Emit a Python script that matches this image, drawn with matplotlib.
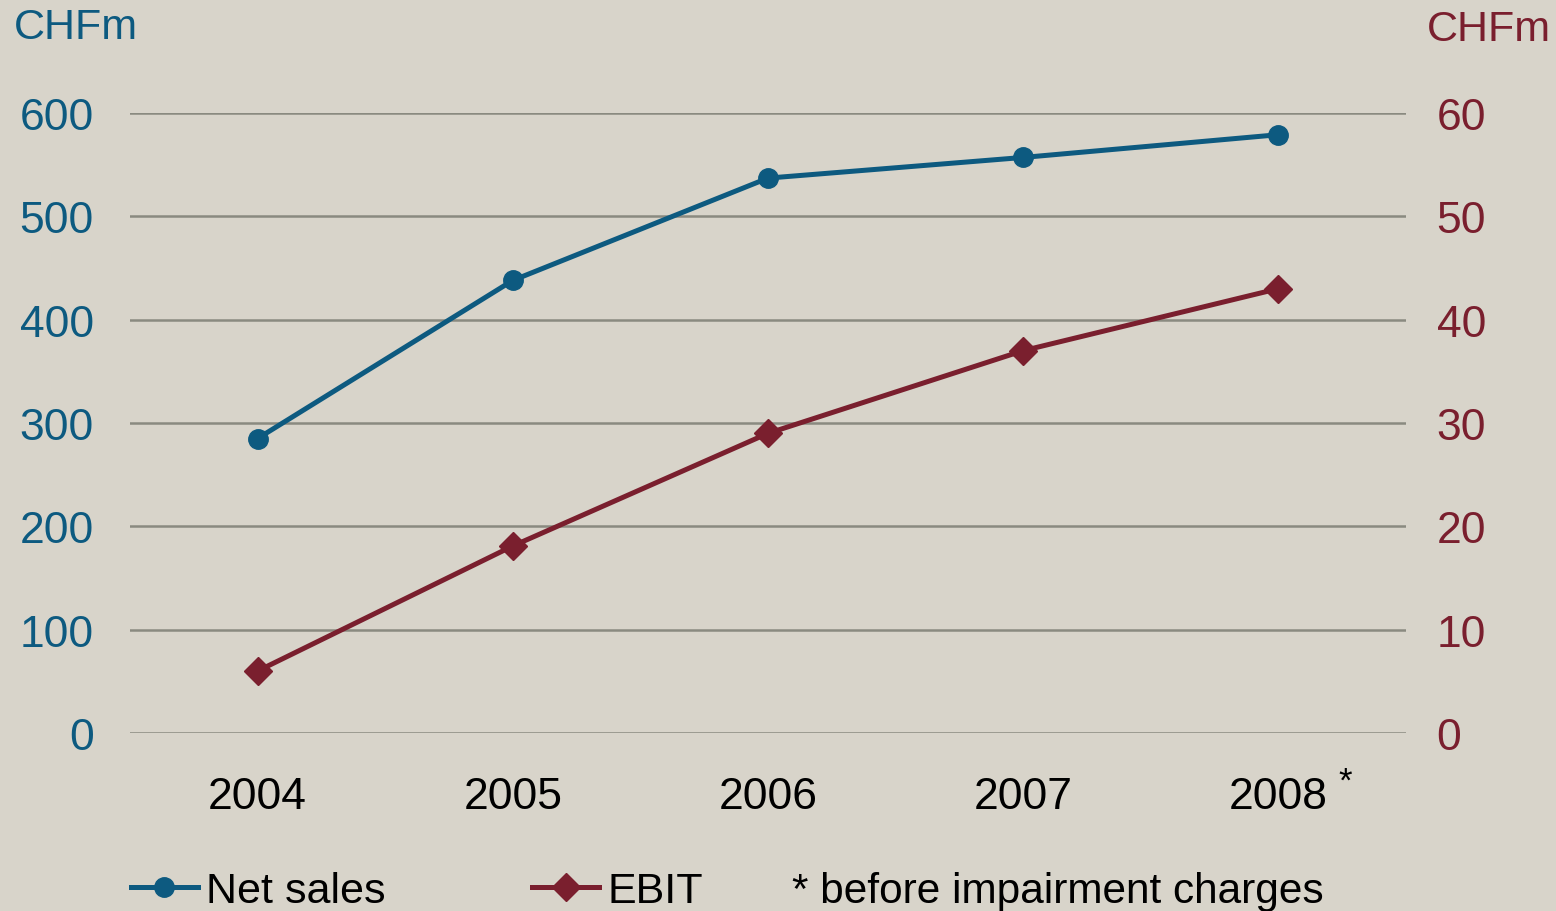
import numpy as np
import matplotlib.pyplot as plt
from matplotlib.lines import Line2D

plt.rcParams['font.family'] = ['Liberation Sans', 'DejaVu Sans']

years = ['2004', '2005', '2006', '2007', '2008']
net_sales = [285, 438, 537, 557, 579]   # CHFm, left axis
ebit = [6.0, 18.1, 29.0, 37.0, 43.0]    # CHFm, right axis

BG = '#d8d4ca'
BLUE = '#0d5a80'
RED = '#7a1f2e'
GRID = '#8a8a80'

fig = plt.figure(figsize=(15.56, 9.12), dpi=100, facecolor=BG)
ax = fig.add_axes([130 / 1556, 1 - 734 / 912, 1276 / 1556, 620 / 912])
ax.set_facecolor(BG)
ax2 = ax.twinx()

x = np.arange(len(years))
ax.plot(x, net_sales, color=BLUE, lw=3.6, marker='o', ms=14, zorder=3)
ax2.plot(x, ebit, color=RED, lw=3.6, marker='D', ms=14, zorder=3)

ax.set_xlim(-0.5, 4.5)
ax.set_ylim(0, 600)
ax2.set_ylim(0, 60)
ax.set_yticks(range(0, 601, 100))
ax2.set_yticks(range(0, 61, 10))
ax.set_xticks(x)
ax.set_xticklabels(years)

for t in range(0, 601, 100):
    ax.axhline(t, color=GRID, lw=1.8, zorder=1)

for a in (ax, ax2):
    for s in a.spines.values():
        s.set_visible(False)
# pads are in points
ax.tick_params(axis='y', length=0, pad=26, labelsize=32, labelcolor=BLUE)
ax2.tick_params(axis='y', length=0, pad=22, labelsize=32, labelcolor=RED)
ax.tick_params(axis='x', length=0, pad=31, labelsize=32, labelcolor='black')

fig.text(14 / 1556, 1 - 28 / 912, 'CHFm', color=BLUE, fontsize=31, va='center', ha='left')
fig.text(1551 / 1556, 1 - 30 / 912, 'CHFm', color=RED, fontsize=31, va='center', ha='right')
fig.text(1338 / 1556, 1 - 782 / 912, '*', color='black', fontsize=25, va='center', ha='left')

handles = [
    Line2D([], [], color=BLUE, lw=3.6, marker='o', ms=14),
    Line2D([], [], color=RED, lw=3.6, marker='D', ms=14),
]
fig.legend(handles, ['Net sales', 'EBIT'], loc='center left',
           bbox_to_anchor=(131 / 1556, 1 - 892 / 912), ncol=2, frameon=False,
           fontsize=31, handlelength=1.55, handletextpad=0.2, columnspacing=3.4,
           borderaxespad=0, borderpad=0)
fig.text(792 / 1556, 1 - 892 / 912, '* before impairment charges', color='black',
         fontsize=30.5, va='center', ha='left')

fig.savefig('out.png', dpi=100, facecolor=BG)
